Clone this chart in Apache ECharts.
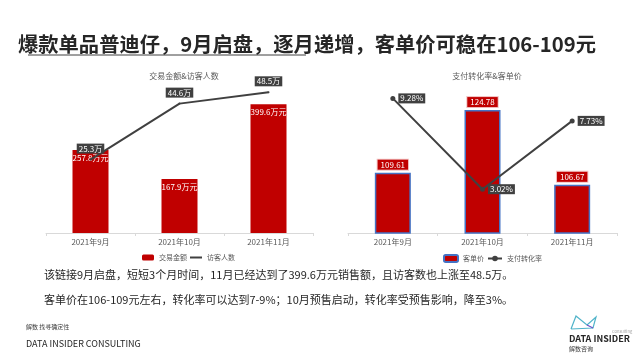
<!DOCTYPE html>
<html><head><meta charset="utf-8">
<script src="https://cdn.jsdelivr.net/npm/echarts@6/dist/echarts.min.js"></script>
<style>html,body{margin:0;padding:0;background:#fff}#c{width:641px;height:361px}</style>
</head><body><div id="c"></div>
<script>
const categories = ['2021年9月', '2021年10月', '2021年11月'];
const salesAmount = [257.8, 167.9, 399.6];   // 交易金额 (万元)
const visitors = [25.3, 44.6, 48.5];         // 访客人数 (万)
const avgPrice = [109.61, 124.78, 106.67];   // 客单价
const convRate = [9.28, 3.02, 7.73];         // 支付转化率 (%)

const FONT = '"Noto Sans CJK SC", "Noto Sans", sans-serif';
const RED = '#C00000';
const DARK = '#404040';
const chart = echarts.init(document.getElementById('c'), null, {renderer: 'canvas'});

const catAxis = (gi) => ({
  type: 'category', gridIndex: gi, data: categories,
  axisLine: {lineStyle: {color: '#D9D9D9'}},
  axisTick: {show: true, length: 3, lineStyle: {color: '#D9D9D9'}},
  axisLabel: {color: '#595959', fontSize: 8, margin: 5, fontFamily: FONT}
});
const hiddenVal = (gi, min, max) => ({
  type: 'value', gridIndex: gi, min: min, max: max, show: false,
  splitLine: {show: false}
});

chart.setOption({
  animation: false,
  textStyle: {fontFamily: FONT},
  title: [
    {text: '爆款单品普迪仔，9月启盘，逐月递增，客单价可稳在106-109元', left: 13, top: 29,
     textStyle: {fontSize: 20.3, fontWeight: 'bold', color: '#262626', fontFamily: FONT}},
    {text: '交易金额&访客人数', left: 179, top: 67, textAlign: 'center',
     textStyle: {fontSize: 8, fontWeight: 'normal', color: '#595959', fontFamily: FONT}},
    {text: '支付转化率&客单价', left: 482, top: 67, textAlign: 'center',
     textStyle: {fontSize: 8, fontWeight: 'normal', color: '#595959', fontFamily: FONT}}
  ],
  legend: [
    {data: ['交易金额', {name: '访客人数', itemStyle: {opacity: 0}}], left: 137, top: 249,
     itemWidth: 12, itemHeight: 6, itemGap: 2,
     textStyle: {fontSize: 7, color: '#595959', fontFamily: FONT}},
    {data: ['客单价', '支付转化率'], left: 438, top: 249, itemWidth: 14, itemHeight: 7, itemGap: 3,
     textStyle: {fontSize: 7, color: '#595959', fontFamily: FONT}}
  ],
  grid: [
    {left: 46, width: 267, top: 72, bottom: 128, containLabel: false},
    {left: 348, width: 269, top: 72, bottom: 128, containLabel: false}
  ],
  xAxis: [catAxis(0), catAxis(1)],
  yAxis: [hiddenVal(0, 0, 500), hiddenVal(0, 0, 55.5), hiddenVal(1, 95, 134), hiddenVal(1, 0, 11.1)],
  series: [
    {name: '交易金额', type: 'bar', xAxisIndex: 0, yAxisIndex: 0, data: salesAmount, barWidth: 36,
     itemStyle: {color: RED},
     label: {show: true, position: 'insideTop', distance: 4, color: '#fff', fontSize: 8,
             formatter: '{c}万元', fontFamily: FONT}},
    {name: '访客人数', type: 'line', xAxisIndex: 0, yAxisIndex: 1, data: visitors,
     symbol: 'circle', symbolSize: 2, lineStyle: {color: DARK, width: 2}, itemStyle: {color: DARK},
     z: 5,
     label: {show: true, position: 'top', distance: 5, color: '#fff', fontSize: 8,
             backgroundColor: DARK, padding: [1, 2], formatter: '{c}万', fontFamily: FONT}},
    {name: '客单价', type: 'bar', xAxisIndex: 1, yAxisIndex: 2, data: avgPrice, barWidth: 36,
     itemStyle: {color: RED, borderColor: '#4472C4', borderWidth: 1.5},
     label: {show: true, position: 'top', distance: 3, color: '#fff', fontSize: 8,
             backgroundColor: RED, borderColor: '#F2C4C4', borderWidth: 1, padding: [1, 3],
             fontFamily: FONT}},
    {name: '支付转化率', type: 'line', xAxisIndex: 1, yAxisIndex: 3, data: convRate,
     symbol: 'circle', symbolSize: 5, lineStyle: {color: DARK, width: 2}, itemStyle: {color: DARK},
     z: 5,
     label: {show: true, position: 'right', distance: 3, color: '#fff', fontSize: 8,
             backgroundColor: DARK, padding: [1, 2], formatter: '{c}%', fontFamily: FONT}}
  ],
  graphic: [
    {type: 'line', shape: {x1: 28, y1: 55, x2: 306, y2: 55}, style: {stroke: '#404040', lineWidth: 1}},
    {type: 'text', left: 44, top: 269, style: {text: '该链接9月启盘，短短3个月时间，11月已经达到了399.6万元销售额，且访客数也上涨至48.5万。',
      fill: '#262626', font: '11px ' + FONT}},
    {type: 'text', left: 44, top: 294, style: {text: '客单价在106-109元左右，转化率可以达到7-9%；10月预售启动，转化率受预售影响，降至3%。',
      fill: '#262626', font: '11px ' + FONT}},
    {type: 'text', left: 26, top: 324, style: {text: '解数 找寻确定性', fill: '#404040', font: '6px ' + FONT}},
    {type: 'text', left: 26, top: 339, style: {text: 'DATA INSIDER CONSULTING', fill: '#262626', font: '9px ' + FONT}},
    {type: 'polyline', shape: {points: [[571, 329], [576, 316], [587, 325], [596, 317], [593, 328], [571, 329]]},
     style: {stroke: '#4FB3C9', lineWidth: 1.2, fill: null}},
    {type: 'polyline', shape: {points: [[587, 325], [593, 328]]}, style: {stroke: '#6A4FC9', lineWidth: 1.2}},
    {type: 'text', left: 612, top: 329, style: {text: 'Consulting', fill: '#A0A0A0', font: '4px ' + FONT}},
    {type: 'text', left: 569, top: 334, style: {text: 'DATA INSIDER', fill: '#262626', font: 'bold 9px ' + FONT}},
    {type: 'text', left: 569, top: 346, style: {text: '解数咨询', fill: '#404040', font: '6px ' + FONT}}
  ]
});
</script></body></html>
